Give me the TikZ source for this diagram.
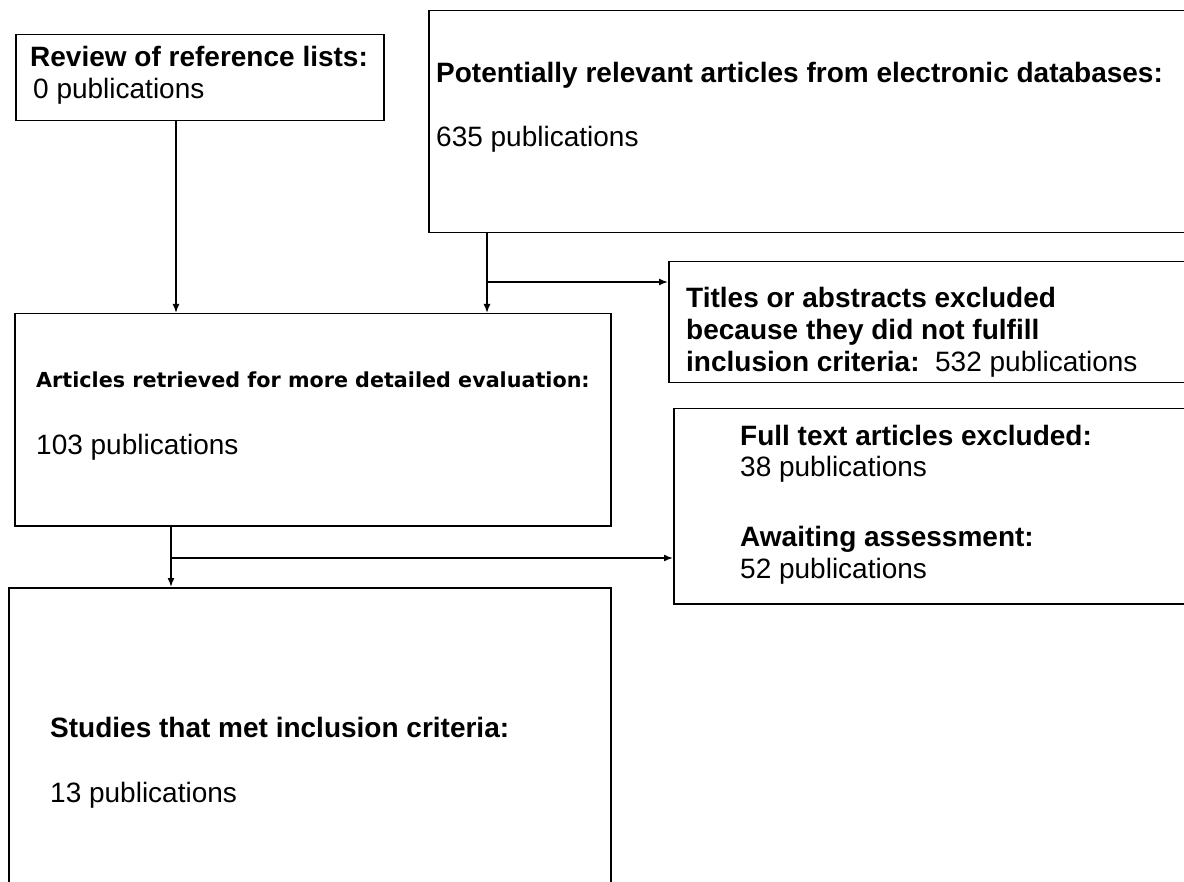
\documentclass[tikz,border=0pt]{standalone}
\usepackage{fontspec}
\setmainfont{Liberation Sans}
\newfontfamily\verdfont{DejaVu Sans}
\usetikzlibrary{arrows.meta,positioning}

\tikzset{
  box/.style={draw, line width=1.5pt, anchor=north west, inner sep=0pt},
  txt/.style={anchor=base west, inner sep=0pt, font=\fontsize{28}{32}\selectfont},
  arr/.style={-{Latex[length=9pt,width=7pt]}, line width=1.5pt},
}

\begin{document}
\begin{tikzpicture}[x=1pt,y=-1pt]
  \clip (0,0) rectangle (1184,882);
  \fill[white] (0,0) rectangle (1184,882);

  % boxes
  \node[box, minimum width=368pt, minimum height=86pt] (revbox) at (15,34) {};
  \node[box, minimum width=772pt, minimum height=222pt] (dbbox) at (428,10) {};
  \node[box, minimum width=596pt, minimum height=212pt] (artbox) at (14,313) {};
  \node[box, minimum width=532pt, minimum height=121pt] (titlebox) at (668,261) {};
  \node[box, minimum width=527pt, minimum height=195pt] (fullbox) at (673,408) {};
  \node[box, minimum width=602pt, minimum height=313pt] (metbox) at (8,587) {};

  % texts
  \node[txt] (revtitle) at (30,67) {\textbf{Review of reference lists:}};
  \node[txt] (revcount) at (33,99) {0 publications};
  \node[txt] (dbtitle) at (436,83) {\textbf{Potentially relevant articles from electronic databases:}};
  \node[txt] (dbcount) at (436,147) {635 publications};
  \node[txt, font=\verdfont\bfseries\fontsize{20.7}{25}\selectfont] (arttitle) at (36,388) {Articles retrieved for more detailed evaluation:};
  \node[txt] (artcount) at (36,455) {103 publications};
  \node[txt] (titleA) at (686,308) {\textbf{Titles or abstracts excluded}};
  \node[txt] (titleB) at (686,340) {\textbf{because they did not fulfill}};
  \node[txt] (titleC) at (686,372) {\textbf{inclusion criteria:}\ \ 532 publications};
  \node[txt] (fullA) at (740,446) {\textbf{Full text articles excluded:}};
  \node[txt] (fullB) at (740,477) {38 publications};
  \node[txt] (waitA) at (740,546) {\textbf{Awaiting assessment:}};
  \node[txt] (waitB) at (740,578) {52 publications};
  \node[txt] (mettitle) at (50,737) {\textbf{Studies that met inclusion criteria:}};
  \node[txt] (metcount) at (50,802) {13 publications};

  % connectors
  \coordinate (j1) at (176,0);
  \coordinate (j2) at (487,0);
  \coordinate (j3) at (171,0);
  \coordinate (br1) at (487,282);
  \coordinate (br2) at (171,558);
  \draw[arr] (revbox.south -| j1) -- (artbox.north -| j1);
  \draw[arr] (dbbox.south -| j2) -- (artbox.north -| j2);
  \draw[arr] (br1) -- (br1 -| titlebox.west);
  \draw[arr] (artbox.south -| j3) -- (metbox.north -| j3);
  \draw[arr] (br2) -- (br2 -| fullbox.west);
\end{tikzpicture}
\end{document}
